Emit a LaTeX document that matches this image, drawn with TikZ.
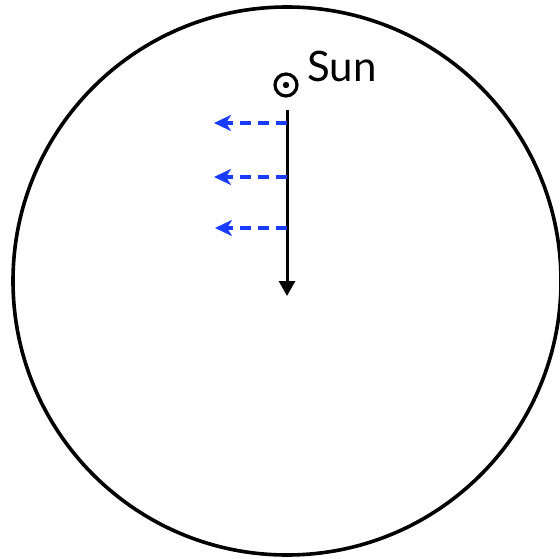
\documentclass[tikz,border=0pt]{standalone}
\usepackage{fontspec}
\setmainfont{Lato}
\usetikzlibrary{arrows.meta}
\definecolor{rayblue}{RGB}{26,60,255}
\tikzset{
  ray/.style={rayblue, line width=3.2pt, dash pattern=on 11pt off 7pt, -{Stealth[length=17pt,width=16pt,inset=5pt]}},
  axis/.style={black, line width=3pt, -{Triangle[length=15pt,width=16pt]}},
}
\begin{document}
\begin{tikzpicture}[x=1pt,y=-1pt]
\useasboundingbox (0,0) rectangle (560,559);
\clip (0,0) rectangle (560,559);
\draw[line width=3.6pt] (287,281) circle[radius=274];
\node[draw, circle, line width=3.2pt, minimum size=22pt, inner sep=0pt] (sun) at (286,85) {};
\fill (sun.center) circle[radius=3.2pt];
\node[anchor=base west, font=\fontsize{42}{44}\selectfont, inner sep=0pt] (lbl) at (307,82) {Sun};
\coordinate (top) at (287,110);
\coordinate (bot) at (287,296);
\draw[axis] (top) -- (bot);
\coordinate (s1) at (287,123);
\coordinate (e1) at (214,123);
\coordinate (s2) at (287,177);
\coordinate (e2) at (214,177);
\coordinate (s3) at (287,228);
\coordinate (e3) at (215,228);
\draw[ray] (s1) -- (e1);
\draw[ray] (s2) -- (e2);
\draw[ray] (s3) -- (e3);
\end{tikzpicture}
\end{document}
